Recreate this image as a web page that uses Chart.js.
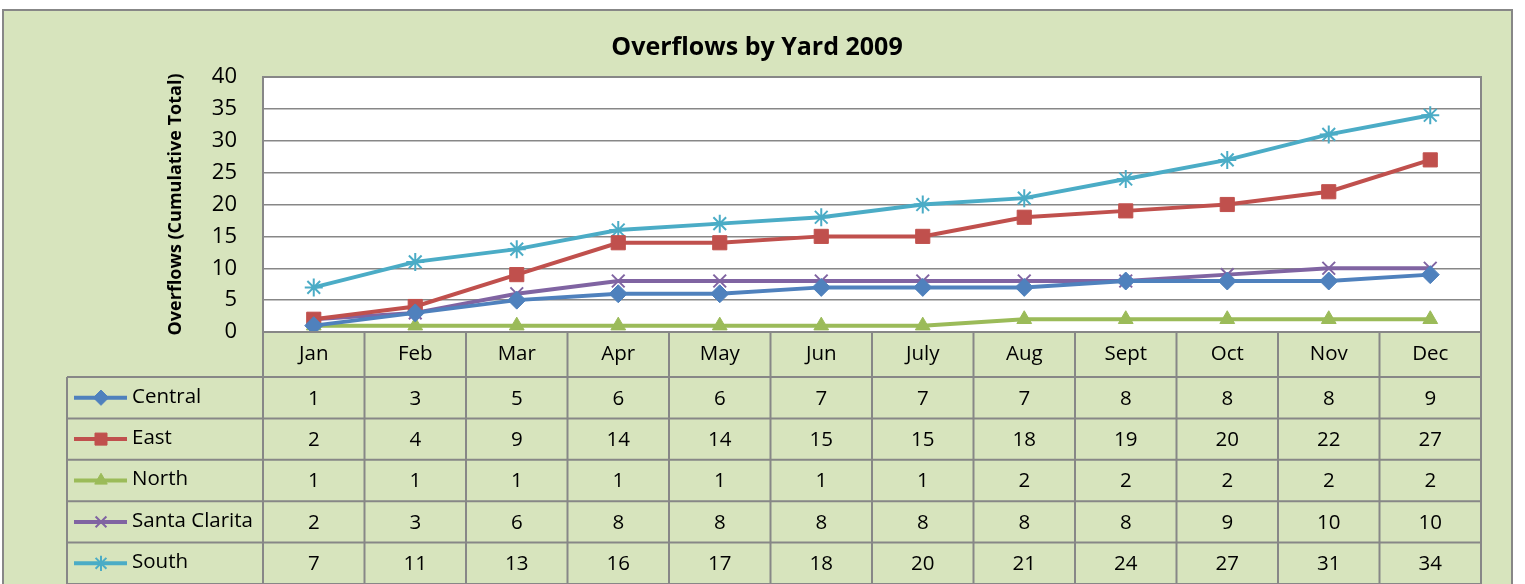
<!DOCTYPE html>
<html>
<head>
<meta charset="utf-8">
<script src="https://cdn.jsdelivr.net/npm/chart.js@4.4.1/dist/chart.umd.min.js"></script>
<style>
  html,body{margin:0;padding:0;background:#fff;}
  canvas{display:block;}
</style>
</head>
<body>
<canvas id="chart" width="1525" height="584"></canvas>
<script>
const title='Overflows by Yard 2009';
const yTitle='Overflows (Cumulative Total)';
const months=['Jan','Feb','Mar','Apr','May','Jun','July','Aug','Sept','Oct','Nov','Dec'];
const seriesNames=['Central','East','North','Santa Clarita','South'];
const central=[1,3,5,6,6,7,7,7,8,8,8,9];
const east=[2,4,9,14,14,15,15,18,19,20,22,27];
const north=[1,1,1,1,1,1,1,2,2,2,2,2];
const santaClarita=[2,3,6,8,8,8,8,8,8,9,10,10];
const south=[7,11,13,16,17,18,20,21,24,27,31,34];

const FONT='"Open Sans", "Noto Sans", sans-serif';
const GRID='#878787';
const FRAME_BG='#d7e4bd';

const styles=[
  {color:'#4f81bd',point:'rectRot',radius:9},
  {color:'#c0504d',point:'rect',radius:10},
  {color:'#9bbb59',point:'triangle',radius:8.5},
  {color:'#8064a2',point:'crossRot',radius:9},
  {color:'#4bacc6',point:'star',radius:9}
];
const values=[central,east,north,santaClarita,south];

const datasets=seriesNames.map((name,i)=>({
  label:name,
  data:values[i],
  borderColor:styles[i].color,
  backgroundColor:styles[i].color,
  borderWidth:4,
  pointStyle:styles[i].point,
  pointRadius:styles[i].radius,
  pointBackgroundColor:styles[i].color,
  pointBorderColor:styles[i].color,
  pointBorderWidth:(styles[i].point==='crossRot'||styles[i].point==='star')?2:1,
  tension:0
}));

// frame, title, plot background, data table
const tablePlugin={
  id:'tablePlugin',
  beforeDraw(chart){
    const {ctx,chartArea:a}=chart;
    ctx.save();
    ctx.fillStyle='#fff';
    ctx.fillRect(0,0,chart.width,chart.height);
    ctx.fillStyle=FRAME_BG;
    ctx.fillRect(3,10,1509,620);
    ctx.strokeStyle=GRID;
    ctx.lineWidth=2;
    ctx.strokeRect(3,10,1509,620);
    ctx.fillStyle='#fff';
    ctx.fillRect(a.left,a.top,a.right-a.left,a.bottom-a.top);
    ctx.fillStyle='#000';
    ctx.font='bold 25px '+FONT;
    ctx.textAlign='center';
    ctx.textBaseline='middle';
    ctx.fillText(title,757,48);
    ctx.restore();
  },
  afterDraw(chart){
    const {ctx,chartArea:a}=chart;
    const xs=chart.scales.x;
    const n=months.length;
    const band=(xs.right-xs.left)/n;
    const top=a.bottom;
    const headH=45;
    const rowH=41.4;
    const tableLeft=67;
    const bottom=top+headH+rowH*seriesNames.length;
    ctx.save();
    ctx.strokeStyle=GRID;
    ctx.lineWidth=2;
    ctx.strokeRect(a.left,a.top,a.right-a.left,a.bottom-a.top);
    // vertical lines
    ctx.beginPath();
    for(let k=0;k<=n;k++){
      const x=xs.left+k*band;
      ctx.moveTo(x,top); ctx.lineTo(x,bottom);
    }
    ctx.moveTo(tableLeft,top+headH); ctx.lineTo(tableLeft,bottom);
    for(let r=0;r<=seriesNames.length;r++){
      const y=top+headH+r*rowH;
      ctx.moveTo(tableLeft,y); ctx.lineTo(xs.right,y);
    }
    ctx.stroke();
    // header
    ctx.fillStyle='#000';
    ctx.font='20.5px '+FONT;
    ctx.textAlign='center';
    ctx.textBaseline='middle';
    months.forEach((m,i)=> ctx.fillText(m,xs.getPixelForValue(i),top+headH/2));
    // rows
    seriesNames.forEach((name,r)=>{
      const cy=top+headH+r*rowH+rowH/2;
      const st=styles[r];
      ctx.fillStyle='#000';
      ctx.textAlign='center';
      values[r].forEach((v,i)=> ctx.fillText(String(v),xs.getPixelForValue(i),cy+1));
      ctx.textAlign='left';
      ctx.fillText(name,132,cy-1);
      ctx.strokeStyle=st.color;
      ctx.lineWidth=4;
      ctx.beginPath(); ctx.moveTo(74,cy); ctx.lineTo(127,cy); ctx.stroke();
      ctx.fillStyle=st.color;
      ctx.lineWidth=(st.point==='crossRot'||st.point==='star')?2:1;
      Chart.helpers.drawPoint(ctx,{pointStyle:st.point,radius:st.radius*0.85,rotation:0,borderWidth:ctx.lineWidth},101,cy);
    });
    ctx.restore();
  }
};

new Chart(document.getElementById('chart'),{
  type:'line',
  data:{labels:months,datasets},
  options:{
    responsive:false,
    animation:false,
    layout:{padding:{left:161,right:44,top:77,bottom:252}},
    plugins:{legend:{display:false},tooltip:{enabled:false},title:{display:false}},
    scales:{
      x:{display:false,offset:true},
      y:{
        min:0,max:40,
        afterFit(scale){ scale.width=102; },
        ticks:{stepSize:5,color:'#000',padding:26,font:{family:FONT,size:22}},
        grid:{color:GRID,lineWidth:1.5,drawTicks:false},
        border:{display:false},
        title:{display:true,text:yTitle,color:'#000',font:{family:FONT,size:18,weight:'bold'}}
      }
    }
  },
  plugins:[tablePlugin]
});
</script>
</body>
</html>
